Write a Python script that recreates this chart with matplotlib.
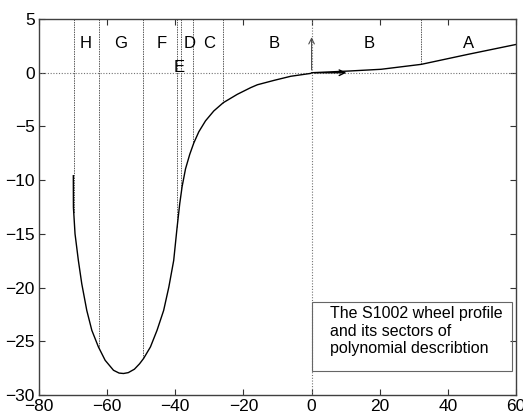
import matplotlib.pyplot as plt
import numpy as np
from matplotlib.patches import Rectangle

plt.rcParams['font.family'] = ['Liberation Sans', 'DejaVu Sans']

# wheel profile points (lateral coordinate [mm], height [mm])
prof_x = [-69.93, -69.9, -69.43, -68.45, -67.45, -65.98, -64.5, -62.56, -60.59, -58.14,
          -56.5, -55.2, -53.8, -52.0, -50.5, -49.3, -47.3, -45.36, -43.42, -41.9,
          -40.47, -39.47, -38.7, -38.0, -37.0, -35.76, -34.58, -33.1, -31.13, -28.7,
          -25.92, -21.8, -17.88, -15.9, -11.0, -6.1, -0.2, 0.0, 11.1, 20.4,
          32.2, 45.9, 60.0]
prof_y = [-9.59, -12.53, -15.0, -17.48, -19.65, -22.13, -23.98, -25.53, -26.77, -27.7,
          -27.96, -28.0, -27.92, -27.6, -27.1, -26.6, -25.53, -23.98, -22.13, -19.96,
          -17.48, -14.39, -12.2, -10.6, -8.95, -7.6, -6.55, -5.5, -4.48, -3.56,
          -2.79, -2.01, -1.39, -1.12, -0.71, -0.33, -0.06, 0.0, 0.16, 0.32,
          0.78, 1.71, 2.63]

# sector boundaries and sector letters
bounds = [-69.8, -62.4, -49.4, -39.5, -38.2, -34.8, -25.9, 32.2]
sec_names = ['H', 'G', 'F', 'D', 'C', 'B', 'B', 'A', 'E']
sec_x = [-66.2, -55.9, -44.1, -35.9, -30.2, -11.1, 16.9, 46.0, -38.8]
sec_y = [2.7, 2.7, 2.7, 2.7, 2.7, 2.7, 2.7, 2.7, 0.45]

fig = plt.figure(figsize=(5.23, 4.17), dpi=100)
ax = fig.add_axes([0.0746, 0.0528, 0.912, 0.9016])

# axes through the origin
ax.axhline(0, color='0.45', lw=0.8, ls=(0, (1, 1.5)))
ax.axvline(0, color='0.45', lw=0.8, ls=(0, (1, 1.5)))

# sector separators from the top down to the profile
for b in bounds:
    ax.plot([b, b], [5, np.interp(b, prof_x, prof_y)], color='0.35', lw=0.7,
            ls=(0, (1.5, 1)))

ax.plot(prof_x, prof_y, color='black', lw=1.0)

for n, x, y in zip(sec_names, sec_x, sec_y):
    ax.text(x, y, n, ha='center', va='center', fontsize=12)

# coordinate system arrows
ax.annotate('', xy=(0, 3.57), xytext=(0, 0),
            arrowprops=dict(arrowstyle='->', color='0.3', lw=0.8))
ax.annotate('', xy=(11.0, 0), xytext=(0, 0),
            arrowprops=dict(arrowstyle='->', color='black', lw=1.0))

ax.add_patch(Rectangle((0.1, -27.79), 58.8, 6.43, fill=False, edgecolor='0.4',
                       lw=0.8, zorder=3))
ax.text(5.5, -21.75, 'The S1002 wheel profile\nand its sectors of\npolynomial describtion',
        ha='left', va='top', fontsize=11.5, linespacing=1.2)

ax.set_xlim(-80, 60)
ax.set_ylim(-30, 5)
ax.set_xticks(np.arange(-80, 61, 20))
ax.set_yticks(np.arange(-30, 6, 5))
ax.tick_params(direction='in', length=4, width=0.8, top=True, right=True,
               labelsize=12.5, pad=3, color='0.2')
for s in ax.spines.values():
    s.set_linewidth(1.0)
    s.set_color('0.25')

fig.savefig('out.png', dpi=100)
